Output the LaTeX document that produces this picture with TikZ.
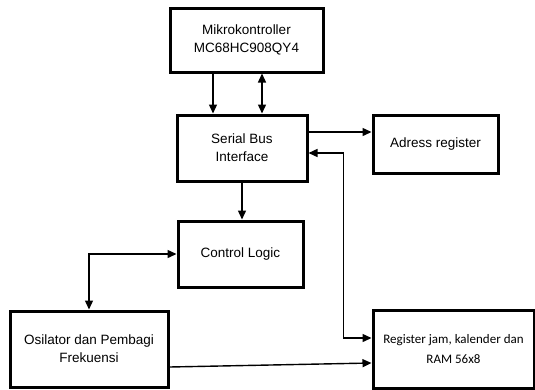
\documentclass[tikz,border=0pt]{standalone}
\usepackage{fontspec}
\setmainfont{Liberation Sans}
\newfontfamily\calibrifont{Carlito}
\usetikzlibrary{arrows.meta}
\begin{document}
\begin{tikzpicture}[x=1pt,y=-1pt,
  block/.style={draw, line width=3pt, rectangle, align=center, inner sep=2pt,
    font=\fontsize{13.5}{18}\selectfont},
  arr/.style={line width=1.4pt, -{Triangle[length=9pt,width=8pt]}},
  arrb/.style={line width=1.4pt, {Triangle[length=9pt,width=8pt]}-{Triangle[length=9pt,width=8pt]}}]
\useasboundingbox (0,0) rectangle (535,389);
% blocks
\node[block, minimum width=153, minimum height=64] (m) at (246.5,40) {Mikrokontroller\\MC68HC908QY4};
\node[block, minimum width=130, minimum height=66] (s) at (242,148) {Serial Bus\\Interface};
\node[block, minimum width=125, minimum height=58] (a) at (435.5,144) {Adress register};
\node[block, minimum width=125, minimum height=66] (c) at (240.5,254) {Control Logic};
\node[block, minimum width=158, minimum height=76] (o) at (89,349) {Osilator dan Pembagi\\Frekuensi};
\node[block, minimum width=161, minimum height=78, font=\calibrifont\fontsize{13}{20}\selectfont] (r) at (453.5,349) {Register jam, kalender dan\\RAM 56x8};
% connectors
\draw[arr] ([xshift=-33.5pt]m.south) -- ([xshift=-33.5pt]m.south |- s.north);
\draw[arrb] ([xshift=15.5pt]m.south) -- ([xshift=15.5pt]m.south |- s.north);
\draw[arr] ([yshift=16pt]s.east) -- ([yshift=16pt]s.east -| a.west);
\draw[arrb] ([yshift=11pt]r.west) -- ++(-28,0) |- ([yshift=-5pt]s.east);
\draw[arr] (s.south) -- (s.south |- c.north);
\draw[arrb] (c.west) -| (o.north);
\draw[arr] ([yshift=-18pt]o.east) -- ([yshift=-14pt]r.west);
\end{tikzpicture}
\end{document}
